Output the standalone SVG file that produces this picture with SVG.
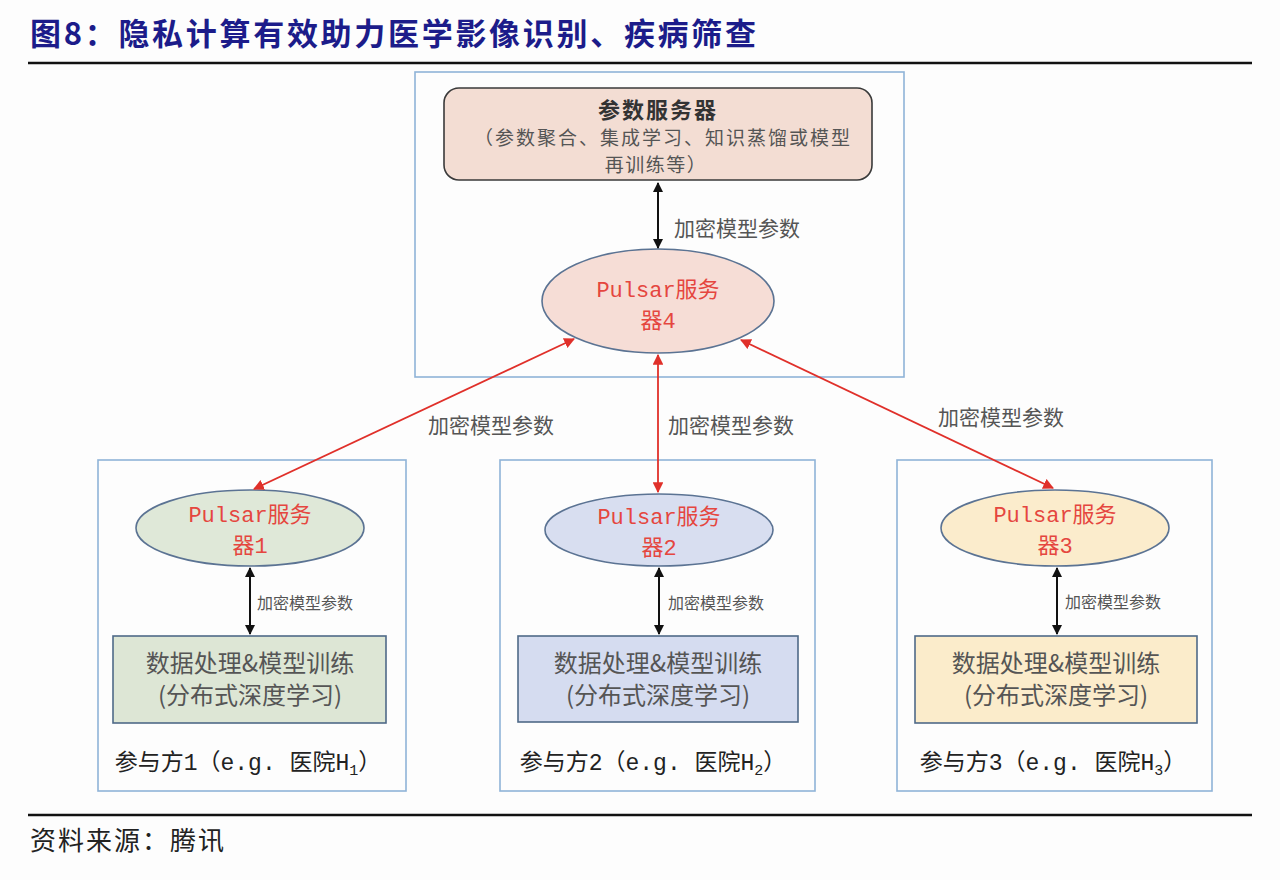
<svg xmlns="http://www.w3.org/2000/svg" width="1280" height="880" viewBox="0 0 1280 880">
<style>
.cjk{font-family:"Noto Sans CJK SC","Liberation Sans",sans-serif;}
.mono{font-family:"Liberation Mono","Noto Sans CJK SC",monospace;}
.title{font-size:31px;font-weight:bold;fill:#1c1c8a;letter-spacing:2.7px;}
.cont{fill:none;stroke:#8fb3d8;stroke-width:1.6;}
.ell{stroke:#5b7393;stroke-width:1.6;}
.ptxt{font-family:"Liberation Mono","Noto Sans CJK SC",monospace;font-size:22px;fill:#e5463f;text-anchor:middle;}
.dbox{stroke:#4f6a88;stroke-width:1.6;}
.dtxt{font-size:24px;fill:#555;text-anchor:middle;}
.lbl{font-size:21px;fill:#555;}
.slbl{font-size:16px;fill:#555;}
.ptlbl{font-size:23px;fill:#222;text-anchor:middle;}
.blk{stroke:#111;stroke-width:2;fill:none;}
.red{stroke:#e0302a;stroke-width:1.8;fill:none;}
</style>
<defs>
<marker id="ab" viewBox="0 0 10 10" refX="9" refY="5" markerWidth="5" markerHeight="5" orient="auto-start-reverse" markerUnits="strokeWidth"><path d="M0,0 L10,5 L0,10 z" fill="#111"/></marker>
<marker id="ar" viewBox="0 0 10 10" refX="9" refY="5" markerWidth="6" markerHeight="6" orient="auto-start-reverse" markerUnits="strokeWidth"><path d="M0,0 L10,5 L0,10 z" fill="#e0302a"/></marker>
</defs>
<rect width="1280" height="880" fill="#fdfdfd"/>
<g id="header">
<text x="30" y="45" class="cjk title">图8：隐私计算有效助力医学影像识别、疾病筛查</text>
<line x1="28" y1="63" x2="1252" y2="63" stroke="#111" stroke-width="2.5"/>
</g>
<g id="top-container">
<rect x="415" y="72" width="489" height="305" class="cont"/>
</g>
<g id="param-server">
<rect x="444" y="88" width="428" height="92" rx="15" fill="#f3ddd3" stroke="#3a3a3a" stroke-width="1.6"/>
<text x="658" y="118" class="cjk" font-size="22" font-weight="bold" fill="#333" text-anchor="middle" letter-spacing="2">参数服务器</text>
<text x="663" y="145" class="cjk" font-size="19" fill="#555" text-anchor="middle" letter-spacing="2">（参数聚合、集成学习、知识蒸馏或模型</text>
<text x="656" y="172" class="cjk" font-size="19" fill="#555" text-anchor="middle" letter-spacing="1.5">再训练等）</text>
</g>
<g id="pulsar4">
<ellipse cx="658" cy="301" rx="116" ry="52" fill="#f6ddd6" class="ell"/>
<text x="658" y="297" class="ptxt">Pulsar服务</text>
<text x="658" y="328" class="ptxt">器4</text>
</g>
<g id="party1">
<rect x="98" y="460" width="308" height="331" class="cont"/>
<ellipse cx="250" cy="528" rx="114" ry="38" fill="#dfe8d8" class="ell"/>
<text x="250" y="522" class="ptxt">Pulsar服务</text>
<text x="250" y="553" class="ptxt">器1</text>
<rect x="113" y="636" width="273" height="87" fill="#dde6d5" class="dbox"/>
<text x="250" y="672" class="cjk dtxt">数据处理&amp;模型训练</text>
<text x="250" y="704" class="cjk dtxt">(分布式深度学习)</text>
<text x="248" y="770" class="cjk ptlbl">参与方<tspan class="mono">1</tspan>（<tspan class="mono">e.g. </tspan>医院<tspan class="mono">H</tspan><tspan class="mono" font-size="15" dy="5">1</tspan><tspan dy="-5">）</tspan></text>
</g>
<g id="party2">
<rect x="500" y="460" width="315" height="331" class="cont"/>
<ellipse cx="659" cy="530" rx="114" ry="36" fill="#d8def0" class="ell"/>
<text x="659" y="524" class="ptxt">Pulsar服务</text>
<text x="659" y="555" class="ptxt">器2</text>
<rect x="518" y="636" width="280" height="86" fill="#d5dcf0" class="dbox"/>
<text x="658" y="672" class="cjk dtxt">数据处理&amp;模型训练</text>
<text x="658" y="704" class="cjk dtxt">(分布式深度学习)</text>
<text x="653" y="770" class="cjk ptlbl">参与方<tspan class="mono">2</tspan>（<tspan class="mono">e.g. </tspan>医院<tspan class="mono">H</tspan><tspan class="mono" font-size="15" dy="5">2</tspan><tspan dy="-5">）</tspan></text>
</g>
<g id="party3">
<rect x="897" y="460" width="315" height="331" class="cont"/>
<ellipse cx="1055" cy="528" rx="114" ry="38" fill="#fbeccc" class="ell"/>
<text x="1055" y="522" class="ptxt">Pulsar服务</text>
<text x="1055" y="553" class="ptxt">器3</text>
<rect x="915" y="636" width="282" height="87" fill="#fbeccb" class="dbox"/>
<text x="1056" y="672" class="cjk dtxt">数据处理&amp;模型训练</text>
<text x="1056" y="704" class="cjk dtxt">(分布式深度学习)</text>
<text x="1053" y="770" class="cjk ptlbl">参与方<tspan class="mono">3</tspan>（<tspan class="mono">e.g. </tspan>医院<tspan class="mono">H</tspan><tspan class="mono" font-size="15" dy="5">3</tspan><tspan dy="-5">）</tspan></text>
</g>
<g id="connectors">
<line x1="658" y1="183" x2="658" y2="248" class="blk" marker-start="url(#ab)" marker-end="url(#ab)"/>
<text x="674" y="236" class="cjk lbl">加密模型参数</text>
<line x1="250" y1="568" x2="250" y2="634" class="blk" marker-start="url(#ab)" marker-end="url(#ab)"/>
<text x="257" y="609" class="cjk slbl">加密模型参数</text>
<line x1="659" y1="568" x2="659" y2="634" class="blk" marker-start="url(#ab)" marker-end="url(#ab)"/>
<text x="668" y="609" class="cjk slbl">加密模型参数</text>
<line x1="1057" y1="568" x2="1057" y2="634" class="blk" marker-start="url(#ab)" marker-end="url(#ab)"/>
<text x="1065" y="608" class="cjk slbl">加密模型参数</text>
<line x1="574" y1="339" x2="254" y2="489" class="red" marker-start="url(#ar)" marker-end="url(#ar)"/>
<line x1="658" y1="355" x2="658" y2="492" class="red" marker-start="url(#ar)" marker-end="url(#ar)"/>
<line x1="741" y1="340" x2="1053" y2="488" class="red" marker-start="url(#ar)" marker-end="url(#ar)"/>
<text x="428" y="433" class="cjk lbl">加密模型参数</text>
<text x="668" y="433" class="cjk lbl">加密模型参数</text>
<text x="938" y="425" class="cjk lbl">加密模型参数</text>
</g>
<g id="footer">
<line x1="28" y1="815" x2="1252" y2="815" stroke="#111" stroke-width="2.5"/>
<text x="30" y="850" class="cjk" font-size="26" fill="#222" letter-spacing="2">资料来源：腾讯</text>
</g>
</svg>
